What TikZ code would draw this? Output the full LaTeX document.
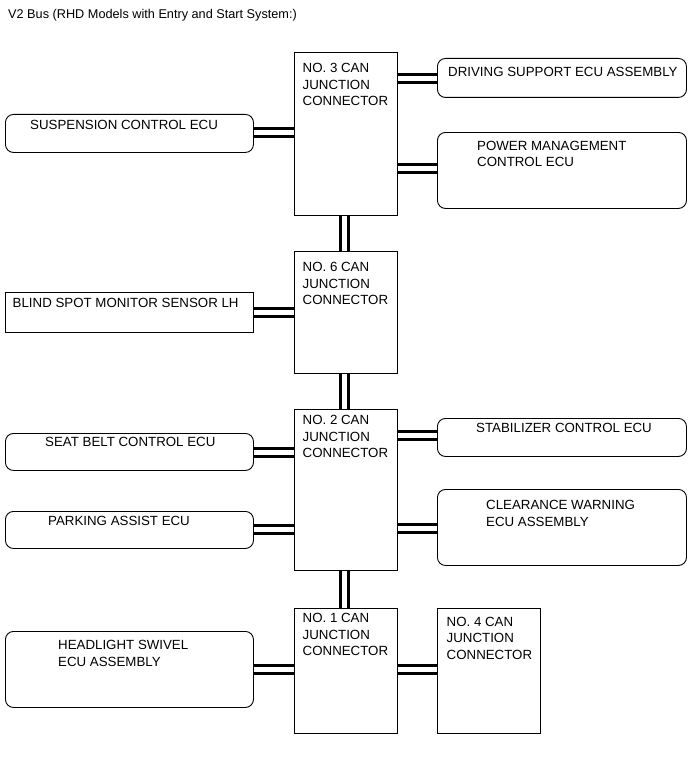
\documentclass[tikz,border=0pt]{standalone}
\usepackage{fontspec}
\setmainfont{Liberation Sans}
\begin{document}
\begin{tikzpicture}[x=1pt,y=-1pt,
  box/.style={draw=black,line width=0.9pt,anchor=north west,inner sep=0pt,fill=white},
  rbox/.style={box,rounded corners=8pt},
  lbl/.style={anchor=north west,inner sep=0pt,align=left,font=\fontsize{13.3}{16.5}\selectfont},
  bus/.style={draw=black,line width=3pt,double=white,double distance=5pt}]
\fill[white] (0,0) rectangle (690,757);
\useasboundingbox (0,0) rectangle (690,757);
% title
\node[lbl,font=\fontsize{12.7}{15}\selectfont] (title) at (8,9) {V2 Bus (RHD Models with Entry and Start System:)};
% CAN junction connectors
\node[box,minimum width=103pt,minimum height=163pt] (n3) at (294,52) {};
\node[box,minimum width=103pt,minimum height=122pt] (n6) at (294,251) {};
\node[box,minimum width=103pt,minimum height=161pt] (n2) at (294,409) {};
\node[box,minimum width=103pt,minimum height=125pt] (n1) at (294,608) {};
\node[box,minimum width=103pt,minimum height=125pt] (n4) at (437,608) {};
% ECUs
\node[rbox,minimum width=249pt,minimum height=39pt] (drv) at (437,58) {};
\node[rbox,minimum width=249pt,minimum height=76pt] (pwr) at (437,132) {};
\node[rbox,minimum width=248pt,minimum height=38pt] (sus) at (5,114) {};
\node[box,minimum width=248pt,minimum height=40pt] (bsm) at (5,292) {};
\node[rbox,minimum width=248pt,minimum height=37pt] (seat) at (5,433) {};
\node[rbox,minimum width=248pt,minimum height=37pt] (park) at (5,511) {};
\node[rbox,minimum width=249pt,minimum height=38pt] (stab) at (437,418) {};
\node[rbox,minimum width=249pt,minimum height=76pt] (clr) at (437,489) {};
\node[rbox,minimum width=248pt,minimum height=76pt] (head) at (5,631) {};
% bus lines
\draw[bus] (n3.south -| 344.5,0) -- (n6.north -| 344.5,0);
\draw[bus] (n6.south -| 344.5,0) -- (n2.north -| 344.5,0);
\draw[bus] (n2.south -| 344.5,0) -- (n1.north -| 344.5,0);
\draw[bus] (n3.east |- 0,78.5) -- (drv.west |- 0,78.5);
\draw[bus] (n3.east |- 0,168.5) -- (pwr.west |- 0,168.5);
\draw[bus] (sus.east |- 0,132.5) -- (n3.west |- 0,132.5);
\draw[bus] (bsm.east |- 0,312) -- (n6.west |- 0,312);
\draw[bus] (seat.east |- 0,452) -- (n2.west |- 0,452);
\draw[bus] (park.east |- 0,529.5) -- (n2.west |- 0,529.5);
\draw[bus] (n2.east |- 0,435.5) -- (stab.west |- 0,435.5);
\draw[bus] (n2.east |- 0,528.5) -- (clr.west |- 0,528.5);
\draw[bus] (head.east |- 0,669) -- (n1.west |- 0,669);
\draw[bus] (n1.east |- 0,669) -- (n4.west |- 0,669);
% labels
\node[lbl] (t3) at (302.5,63.5) {NO. 3 CAN\\JUNCTION\\CONNECTOR};
\node[lbl] (t6) at (302.5,262.5) {NO. 6 CAN\\JUNCTION\\CONNECTOR};
\node[lbl] (t2) at (302.5,415.5) {NO. 2 CAN\\JUNCTION\\CONNECTOR};
\node[lbl] (t1) at (302.5,613.5) {NO. 1 CAN\\JUNCTION\\CONNECTOR};
\node[lbl] (t4) at (446.5,617) {NO. 4 CAN\\JUNCTION\\CONNECTOR};
\node[lbl] (tdrv) at (448,67.5) {DRIVING SUPPORT ECU ASSEMBLY};
\node[lbl] (tpwr) at (477,141) {POWER MANAGEMENT\\CONTROL ECU};
\node[lbl] (tsus) at (30,120) {SUSPENSION CONTROL ECU};
\node[lbl] (tbsm) at (12.5,298.5) {BLIND SPOT MONITOR SENSOR LH};
\node[lbl] (tseat) at (45,437.5) {SEAT BELT CONTROL ECU};
\node[lbl] (tpark) at (48,516.5) {PARKING ASSIST ECU};
\node[lbl] (tstab) at (476,423.5) {STABILIZER CONTROL ECU};
\node[lbl] (tclr) at (486,500.5) {CLEARANCE WARNING\\ECU ASSEMBLY};
\node[lbl] (thead) at (58,640.5) {HEADLIGHT SWIVEL\\ECU ASSEMBLY};
\end{tikzpicture}
\end{document}
